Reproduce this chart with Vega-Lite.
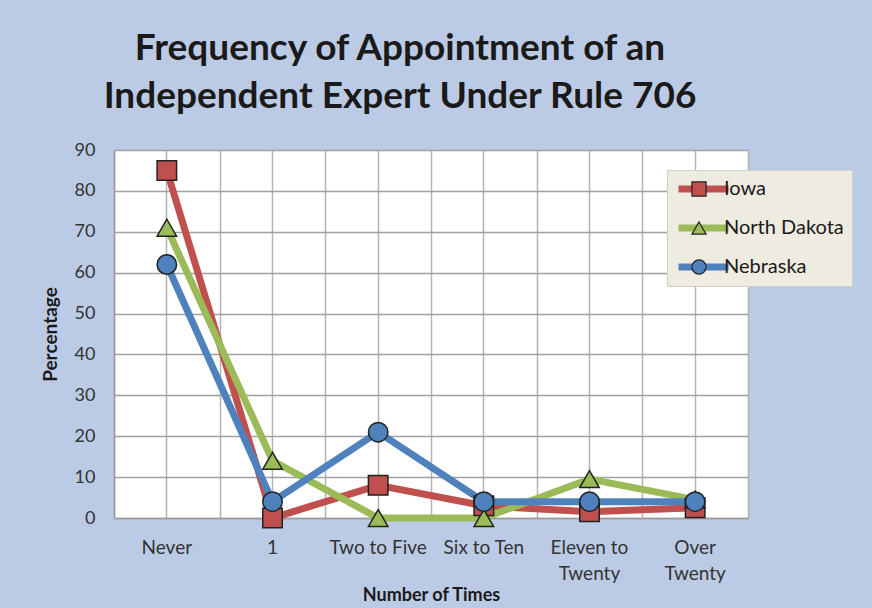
{
  "$schema": "https://vega.github.io/schema/vega-lite/v6.json",
  "autosize": "none",
  "width": 634,
  "height": 368,
  "padding": {"left": 114, "top": 150, "right": 124, "bottom": 90},
  "background": "#bccbe5",
  "title": {
    "text": ["Frequency of Appointment of an", "Independent Expert Under Rule 706"],
    "font": "Lato",
    "fontSize": 37,
    "fontWeight": "bold",
    "color": "#1a1a1a",
    "lineHeight": 48,
    "anchor": "middle",
    "frame": "group",
    "dx": -31,
    "offset": 25
  },
  "data": {
    "values": [
      {"times": "Never", "state": "Iowa", "pct": 85},
      {"times": "1", "state": "Iowa", "pct": 0},
      {"times": "Two to Five", "state": "Iowa", "pct": 8},
      {"times": "Six to Ten", "state": "Iowa", "pct": 3},
      {"times": "Eleven to Twenty", "state": "Iowa", "pct": 1.5},
      {"times": "Over Twenty", "state": "Iowa", "pct": 2.5},
      {"times": "Never", "state": "North Dakota", "pct": 71},
      {"times": "1", "state": "North Dakota", "pct": 14},
      {"times": "Two to Five", "state": "North Dakota", "pct": 0},
      {"times": "Six to Ten", "state": "North Dakota", "pct": 0},
      {"times": "Eleven to Twenty", "state": "North Dakota", "pct": 9.5},
      {"times": "Over Twenty", "state": "North Dakota", "pct": 4.5},
      {"times": "Never", "state": "Nebraska", "pct": 62},
      {"times": "1", "state": "Nebraska", "pct": 4},
      {"times": "Two to Five", "state": "Nebraska", "pct": 21},
      {"times": "Six to Ten", "state": "Nebraska", "pct": 4},
      {"times": "Eleven to Twenty", "state": "Nebraska", "pct": 4},
      {"times": "Over Twenty", "state": "Nebraska", "pct": 4}
    ]
  },
  "config": {
    "view": {"fill": "white", "stroke": null},
    "font": "Lato",
    "axis": {"gridColor": "#b4b4b4", "gridWidth": 1.5, "domainColor": "#9a9a9a", "domainWidth": 1.5, "tickColor": "#9a9a9a"}
  },
  "resolve": {"axis": {"x": "independent"}, "legend": {"color": "independent", "shape": "independent"}},
  "encoding": {
    "x": {
      "field": "times",
      "type": "nominal",
      "sort": ["Never", "1", "Two to Five", "Six to Ten", "Eleven to Twenty", "Over Twenty"],
      "scale": {"type": "band", "paddingInner": 0, "paddingOuter": 0}
    },
    "y": {
      "field": "pct",
      "type": "quantitative",
      "scale": {"domain": [0, 90], "nice": false, "zero": true},
      "axis": {
        "values": [0, 10, 20, 30, 40, 50, 60, 70, 80, 90],
        "title": "Percentage",
        "titleFontSize": 19,
        "titleFontWeight": "bold",
        "titleColor": "#1a1a1a",
        "titlePadding": 14,
        "labelFontSize": 18,
        "labelColor": "#333333",
        "labelPadding": 19,
        "tickSize": 0,
        "grid": true,
        "gridColor": "#a0a0a0"
      }
    }
  },
  "layer": [
    {
      "mark": {"type": "line", "strokeWidth": 7, "strokeCap": "round"},
      "encoding": {
        "x": {
          "field": "times",
          "type": "nominal",
          "sort": ["Never", "1", "Two to Five", "Six to Ten", "Eleven to Twenty", "Over Twenty"],
          "axis": {
            "orient": "bottom",
            "labelAngle": 0,
            "grid": true,
            "ticks": false,
            "labelFontSize": 19,
            "labelColor": "#333333",
            "labelPadding": 20,
            "labelLineHeight": 26,
            "labelExpr": "datum.label == 'Eleven to Twenty' ? ['Eleven to', 'Twenty'] : datum.label == 'Over Twenty' ? ['Over', 'Twenty'] : datum.label",
            "title": "Number of Times",
            "titleFontSize": 18,
            "titleFontWeight": "bold",
            "titleColor": "#1a1a1a",
            "titlePadding": 3
          }
        },
        "color": {
          "field": "state",
          "type": "nominal",
          "scale": {"domain": ["Iowa", "North Dakota", "Nebraska"], "range": ["#c0504d", "#9bbb59", "#4f81bd"]},
          "legend": {
            "orient": "none",
            "legendX": 553,
            "legendY": 20,
            "title": null,
            "fillColor": "#eeebe0",
            "strokeColor": "#d0cfc8",
            "padding": 8,
            "symbolType": "stroke",
            "symbolSize": 2500,
            "symbolStrokeWidth": 7,
            "clipHeight": 22,
            "labelFontSize": 20,
            "labelColor": "#1a1a1a",
            "labelOffset": -8,
            "rowPadding": 17,
            "labelLimit": 200
          }
        }
      }
    },
    {
      "mark": {"type": "point", "filled": true, "size": 380, "stroke": "#222222", "strokeWidth": 1.5, "opacity": 1},
      "encoding": {
        "x": {
          "field": "times",
          "type": "nominal",
          "sort": ["Never", "1", "Two to Five", "Six to Ten", "Eleven to Twenty", "Over Twenty"],
          "axis": {
            "orient": "top",
            "labels": false,
            "ticks": false,
            "domain": false,
            "title": null,
            "grid": true,
            "tickBand": "extent"
          }
        },
        "color": {
          "field": "state",
          "type": "nominal",
          "legend": {
            "orient": "right",
            "offset": -86,
            "title": null,
            "padding": 28,
            "symbolSize": 200,
            "symbolStrokeColor": "#222222",
            "symbolStrokeWidth": 1.2,
            "clipHeight": 22,
            "labelFontSize": 18,
            "labelExpr": "''",
            "rowPadding": 17
          }
        },
        "shape": {
          "field": "state",
          "type": "nominal",
          "scale": {"domain": ["Iowa", "North Dakota", "Nebraska"], "range": ["square", "triangle-up", "circle"]},
          "legend": {
            "orient": "right",
            "offset": -86,
            "title": null,
            "padding": 28,
            "symbolSize": 200,
            "symbolStrokeColor": "#222222",
            "symbolStrokeWidth": 1.2,
            "clipHeight": 22,
            "labelFontSize": 18,
            "labelExpr": "''",
            "rowPadding": 17
          }
        }
      }
    }
  ]
}
